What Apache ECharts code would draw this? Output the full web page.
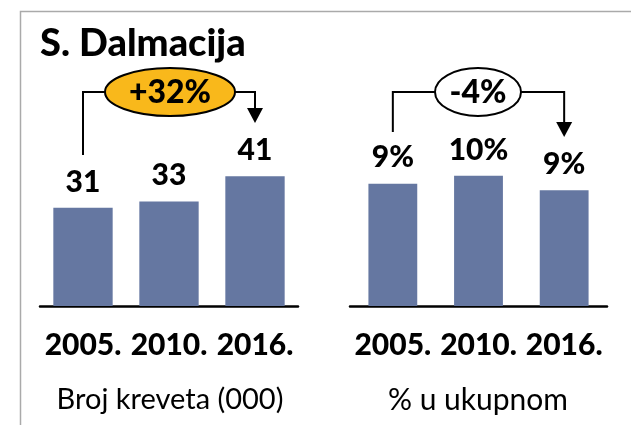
<!DOCTYPE html>
<html>
<head>
<meta charset="utf-8">
<style>
  html, body { margin: 0; padding: 0; background: #fff; }
  #main { width: 631px; height: 425px; }
</style>
<script src="https://cdn.jsdelivr.net/npm/echarts@6/dist/echarts.min.js"></script>
</head>
<body>
<div id="main"></div>
<script>
// podaci
const years = ['2005.', '2010.', '2016.'];
const beds = [31, 33, 41];          // broj kreveta (000)
const share = [9.4, 10.0, 8.9];     // % u ukupnom
const bedsChange = '+32%';
const shareChange = '-4%';

const barColor = '#6577a1';
const font = 'Lato, "Open Sans", sans-serif';

const chart = echarts.init(document.getElementById('main'));

const xAxisCommon = {
    type: 'category',
    axisTick: { show: false },
    axisLine: { lineStyle: { color: '#000', width: 2.5 } },
    axisLabel: {
        interval: 0,
        color: '#000', fontFamily: font, fontWeight: 900,
        fontSize: 30, lineHeight: 30, margin: 24
    }
};
const yAxisCommon = {
    type: 'value', min: 0, show: false, splitLine: { show: false }
};
const labelCommon = {
    show: true, position: 'top', distance: 11,
    color: '#000', fontFamily: font, fontWeight: 900,
    fontSize: 30, lineHeight: 30
};

const option = {
    animation: false,
    grid: [
        { left: 40, right: 333, top: 116, bottom: 119 },
        { left: 350, right: 24, top: 116, bottom: 119 }
    ],
    xAxis: [
        Object.assign({ gridIndex: 0, data: years }, xAxisCommon),
        Object.assign({ gridIndex: 1, data: years }, xAxisCommon)
    ],
    yAxis: [
        Object.assign({ gridIndex: 0, max: 60 }, yAxisCommon),
        Object.assign({ gridIndex: 1, max: 14.6 }, yAxisCommon)
    ],
    series: [
        {
            type: 'bar', xAxisIndex: 0, yAxisIndex: 0, data: beds,
            barWidth: '69%', itemStyle: { color: barColor },
            label: labelCommon
        },
        {
            type: 'bar', xAxisIndex: 1, yAxisIndex: 1, data: share,
            barWidth: '57%', itemStyle: { color: barColor },
            label: Object.assign({}, labelCommon, {
                formatter: p => Math.round(p.value) + '%'
            })
        }
    ]
};
chart.setOption(option);

// okvir, naslov, natpisi i strelice
const px = (axis, i) => chart.convertToPixel({ xAxisIndex: axis }, years[i]);

function bracket(axis, text, fill, cx, rx, startY, endY) {
    const x0 = px(axis, 0), x1 = px(axis, 2);
    const y = 92;
    return [
        { type: 'polyline', shape: { points: [[x0, startY], [x0, y], [cx - rx, y]] },
          style: { stroke: '#000', lineWidth: 2, fill: null } },
        { type: 'polyline', shape: { points: [[cx + rx, y], [x1, y], [x1, endY - 14]] },
          style: { stroke: '#000', lineWidth: 2, fill: null } },
        { type: 'polygon', shape: { points: [[x1 - 8, endY - 15], [x1 + 8, endY - 15], [x1, endY]] },
          style: { fill: '#000' } },
        { type: 'ellipse', shape: { cx: cx, cy: y, rx: rx, ry: 24 },
          style: { fill: fill, stroke: '#000', lineWidth: 2 } },
        { type: 'text', x: cx, y: y + 1,
          style: { text: text, fill: '#000', font: '900 32px ' + font,
                   textAlign: 'center', textVerticalAlign: 'middle' } }
    ];
}

chart.setOption({
    graphic: [
        { type: 'polyline', shape: { points: [[20.5, 425], [20.5, 11.5], [631, 11.5]] },
          style: { stroke: '#aaa', lineWidth: 1.5, fill: null } },
        { type: 'text', x: 40, y: 44,
          style: { text: 'S. Dalmacija', fill: '#000', font: '900 38px ' + font,
                   textVerticalAlign: 'middle' } },
        { type: 'text', x: 170, y: 400,
          style: { text: 'Broj kreveta (000)', fill: '#000', font: '29px ' + font,
                   textAlign: 'center', textVerticalAlign: 'middle' } },
        { type: 'text', x: 478, y: 400,
          style: { text: '% u ukupnom', fill: '#000', font: '30px ' + font,
                   textAlign: 'center', textVerticalAlign: 'middle' } }
    ]
        .concat(bracket(0, bedsChange, '#f9b81b', 170, 65, 155, 123))
        .concat(bracket(1, shareChange, '#fff', 478, 43, 132, 137))
});
</script>
</body>
</html>
